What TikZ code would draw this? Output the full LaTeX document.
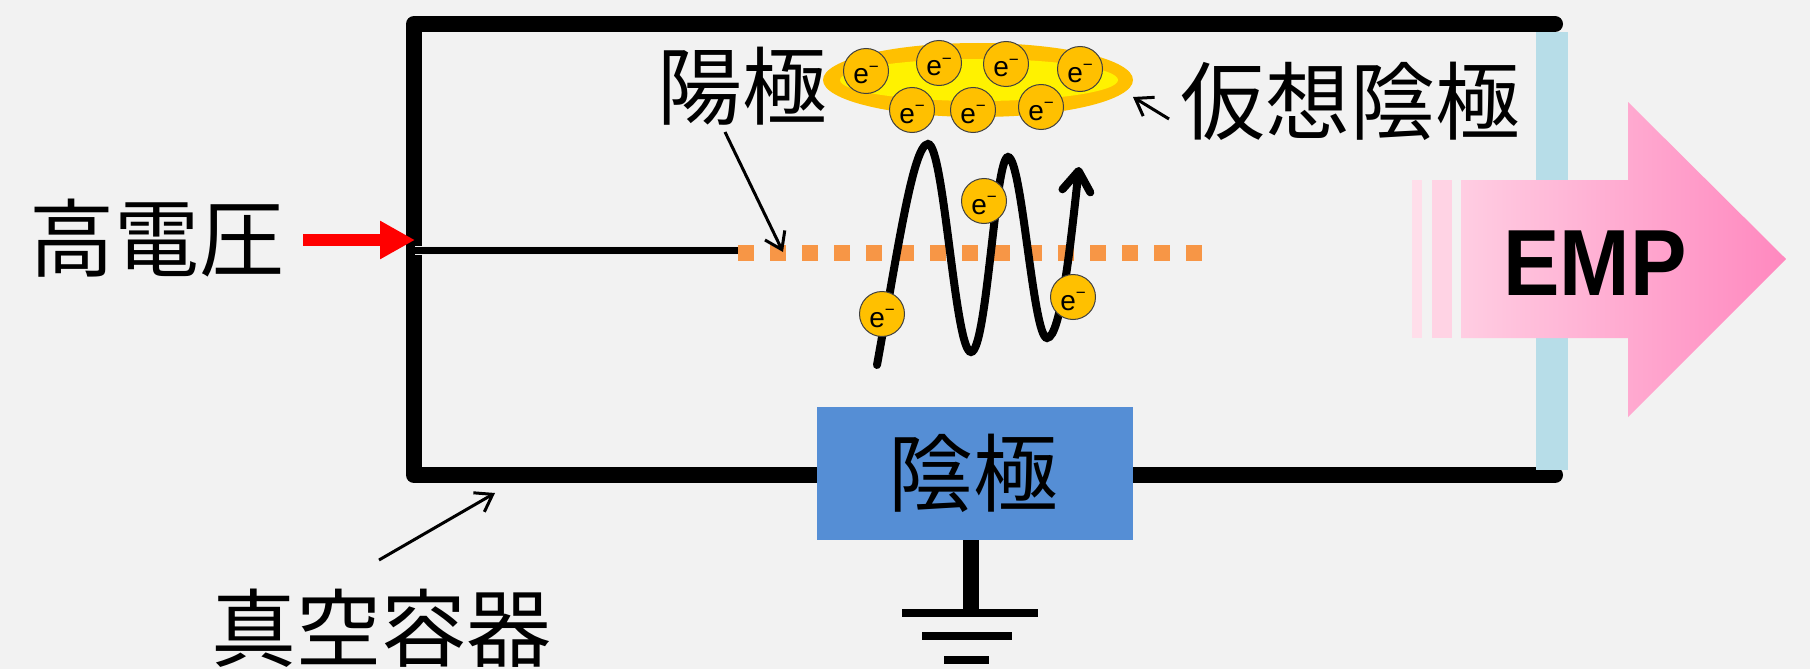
\documentclass[tikz,border=0pt]{standalone}
\usepackage{fontspec}
\newfontfamily\cjk{Noto Sans CJK JP}
\newfontfamily\lsans{Liberation Sans}
\usetikzlibrary{arrows.meta}
\definecolor{bg}{HTML}{F2F2F2}
\definecolor{glass}{HTML}{B7DDE8}
\definecolor{dotorange}{HTML}{F79646}
\definecolor{cathblue}{HTML}{558ED5}
\definecolor{gold}{HTML}{FFC000}
\definecolor{edgegray}{HTML}{404040}
\definecolor{pinkL}{HTML}{FFCDE2}
\definecolor{pinkR}{HTML}{FF88BF}
\definecolor{pinkS1}{HTML}{FFDEEA}
\definecolor{pinkS2}{HTML}{FFD3E4}
\tikzset{
  jlabel/.style={inner sep=0pt, font=\cjk\fontsize{85}{85}\selectfont},
  electron/.style={circle, fill=gold, draw=edgegray, line width=1pt,
    minimum size=45pt, inner sep=0pt, text height=26pt, text depth=0pt,
    font=\lsans\fontsize{28}{28}\selectfont},
  pointer/.style={line width=3pt, -{Straight Barb[length=16pt,width=22pt]}},
  wall/.style={line width=16pt, line join=round, line cap=round},
}
\newcommand\eminus{e\raisebox{0.42em}{\fontsize{17}{17}\selectfont −}}
\begin{document}
\begin{tikzpicture}[x=1pt,y=-1pt]
\useasboundingbox (0,0) rectangle (1810,669);
\fill[bg] (0,0) rectangle (1810,669);

% vacuum vessel walls
\draw[wall] (1555,24) -- (414,24) -- (414,475) -- (1555,475);
% output window
\fill[glass] (1536,32) rectangle (1568,470);

% anode wire and mesh
\coordinate (wireL) at (415,250);
\coordinate (wireR) at (738,250);
\draw[line width=9pt, white!85!gray] (wireL) -- (wireR);
\draw[line width=7pt, black] (wireL) -- (wireR);
\coordinate (meshL) at (738,253);
\coordinate (meshR) at (1202,253);
\draw[dotorange, line width=16pt, dash pattern=on 16pt off 16pt] (meshL) -- (meshR);

% high voltage feed
\coordinate (hvS) at (303,240);
\coordinate (hvT) at (415,240);
\draw[red, line width=12pt, -{Triangle[length=35pt,width=36pt]}] (hvS) -- (hvT);

% oscillating electron path
\coordinate (w0) at (877,365);
\coordinate (w5) at (1079,167);
\draw[line width=8pt, line cap=round, -{Straight Barb[length=20pt,width=28pt,round]}]
  (w0) .. controls (897,255) and (913,144) .. (928,144)
       .. controls (944,144) and (955,352) .. (971,352)
       .. controls (987,352) and (995,157) .. (1008,157)
       .. controls (1022,157) and (1033,338) .. (1047,338)
       .. controls (1061,338) and (1071,240) .. (w5);

% virtual cathode cloud
\fill[gold] (978,80) ellipse [x radius=155, y radius=37];
\fill[yellow] (979,80) ellipse [x radius=139, y radius=21];
\node[electron] (c1) at (866,71) {\eminus};
\node[electron] (c2) at (939,63) {\eminus};
\node[electron] (c3) at (1006,64) {\eminus};
\node[electron] (c4) at (1080,69) {\eminus};
\node[electron] (c5) at (912,110) {\eminus};
\node[electron] (c6) at (973,110) {\eminus};
\node[electron] (c7) at (1041,107) {\eminus};
\coordinate (cloud) at (1133,97);

% electrons along the path
\node[electron] (pA) at (882,314) {\eminus};
\node[electron] (pB) at (984,201) {\eminus};
\node[electron] (pC) at (1073,297) {\eminus};

% labels
\node[jlabel] (hv) at (157,238) {高電圧};
\node[jlabel] (anode) at (742,86) {陽極};
\node[jlabel] (vc) at (1350,101) {仮想陰極};
\node[jlabel] (vessel) at (381,628) {真空容器};

\coordinate (anodeS) at (725,132);
\coordinate (anodeT) at (783,252);
\draw[pointer] (anodeS) -- (anodeT);
\coordinate (vcS) at (1169,119);
\draw[pointer] (vcS) -- (cloud);
\coordinate (vesS) at (379,560);
\coordinate (vesT) at (495,493);
\draw[pointer] (vesS) -- (vesT);

% radiated pulse
\fill[pinkS1] (1412,180) rectangle (1422,338);
\fill[pinkS2] (1432,180) rectangle (1452,338);
\shade[left color=pinkL, right color=pinkR]
  (1461,180) -- (1628,180) -- (1628,102) -- (1786,259) -- (1628,417)
  -- (1628,338) -- (1461,338) -- cycle;
\node[inner sep=0pt, font=\lsans\bfseries\fontsize{94}{94}\selectfont] (emp) at (1595,263) {\scalebox{0.9}[1]{EMP}};

% real cathode and ground
\node[fill=cathblue, minimum width=316pt, minimum height=133pt, inner sep=0pt,
      font=\cjk\fontsize{85}{85}\selectfont] (cath) at (975,473.5) {};
\node[jlabel] (cathtxt) at (973,473) {陰極};
\coordinate (gnd) at (971,613);
\draw[line width=16pt] (cath.south -| gnd) -- (gnd);
\draw[line width=8pt] (902,613) -- (1038,613);
\draw[line width=8pt] (922,636) -- (1012,636);
\draw[line width=8pt] (944,660) -- (989,660);
\end{tikzpicture}
\end{document}
